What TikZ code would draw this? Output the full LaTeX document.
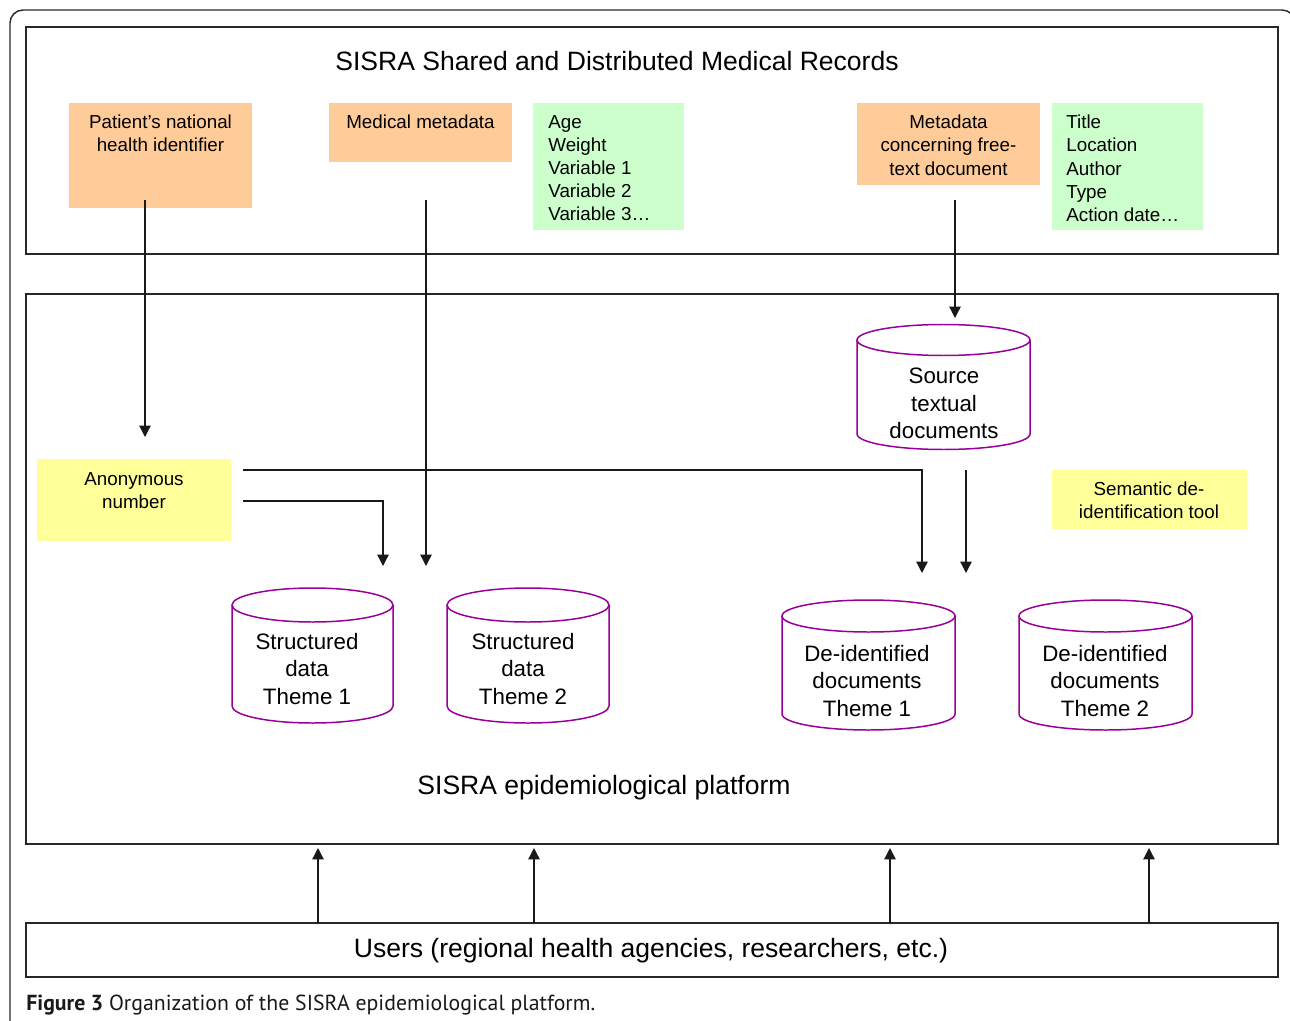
\documentclass[tikz,border=0pt]{standalone}
\usepackage{fontspec}
\setmainfont{Liberation Sans}
\newfontfamily\capfont{PT Sans}
\usetikzlibrary{arrows.meta}
\definecolor{orangebox}{RGB}{255,204,153}
\definecolor{greenbox}{RGB}{204,255,204}
\definecolor{yellowbox}{RGB}{255,255,153}
\definecolor{cylpurple}{RGB}{153,0,153}
\definecolor{framegray}{RGB}{40,40,40}
\newcommand\dbcyl[5]{% x1, x2, ytop, ybot, ry
  \pgfmathsetmacro\cylcx{(#1+#2)/2}%
  \pgfmathsetmacro\cylrx{(#2-#1)/2}%
  \draw[cylline] (#1,#3) -- (#1,#4) arc[start angle=180,end angle=0,x radius=\cylrx,y radius=#5] -- (#2,#3);
  \draw[cylline] (\cylcx,#3) ellipse[x radius=\cylrx, y radius=#5];
}
\begin{document}
\begin{tikzpicture}[x=0.02cm,y=-0.02cm,
  frame/.style={draw=framegray, line width=0.9pt, inner sep=0pt},
  fillbox/.style={inner sep=0pt, draw=none},
  cylline/.style={draw=cylpurple, line width=0.85pt},
  conn/.style={draw=black!90, line width=0.75pt, -{Triangle[length=6.5pt,width=6.5pt]}},
  smalltxt/.style={inner sep=0pt, font=\fontsize{10.7}{13.1}\selectfont},
  cyltxt/.style={inner sep=0pt, align=center, font=\fontsize{12.7}{15.6}\selectfont},
  bigtxt/.style={inner sep=0pt, font=\fontsize{15.1}{18}\selectfont}]
\useasboundingbox (0,0) rectangle (1290,1020);
\fill[white] (0,0) rectangle (1290,1020);
% outer rounded frame (partly outside the page)
\begin{scope}
  \clip (0,0) rectangle (1290,1020);
  \draw[draw=framegray, line width=0.8pt, rounded corners=0.26cm] (10,1040) -- (10,10) -- (1295,10) -- (1295,1040);
\end{scope}
% main boxes
\node[frame, minimum width=25.04cm, minimum height=4.54cm] (records) at (652,140.5) {};
\node[frame, minimum width=25.04cm, minimum height=11cm] (platform) at (652,569) {};
\node[frame, minimum width=25.04cm, minimum height=1.08cm] (users) at (652,950) {};
% coloured boxes
\node[fillbox, fill=orangebox, minimum width=3.66cm, minimum height=2.1cm] (pid) at (160.5,155.5) {};
\node[fillbox, fill=orangebox, minimum width=3.66cm, minimum height=1.18cm] (medmeta) at (420.5,132.5) {};
\node[fillbox, fill=greenbox, minimum width=3.02cm, minimum height=2.54cm] (vars) at (608.5,166.5) {};
\node[fillbox, fill=orangebox, minimum width=3.66cm, minimum height=1.64cm] (docmeta) at (948.5,144) {};
\node[fillbox, fill=greenbox, minimum width=3.02cm, minimum height=2.54cm] (docvars) at (1127.5,166.5) {};
\node[fillbox, fill=yellowbox, minimum width=3.88cm, minimum height=1.64cm] (anon) at (134,500) {};
\node[fillbox, fill=yellowbox, minimum width=3.9cm, minimum height=1.18cm] (semtool) at (1149.5,499.5) {};
% cylinders
\dbcyl{857}{1030}{340}{434}{15.5}
\dbcyl{232}{393}{605}{706}{17}
\dbcyl{447}{609}{605}{706}{17}
\dbcyl{782}{955}{616}{714}{16}
\dbcyl{1019}{1192}{616}{714}{16}
% connector coordinates
\coordinate (pidout) at (145,200);
\coordinate (anonin) at (145,437);
\coordinate (medout) at (426,200);
\coordinate (sd2in) at (426,566);
\coordinate (docout) at (955,200);
\coordinate (srcin) at (955,318);
\coordinate (anonA) at (243,470);
\coordinate (bendA) at (922,470);
\coordinate (dd1in) at (922,573);
\coordinate (anonB) at (243,501);
\coordinate (bendB) at (383,501);
\coordinate (sd1in) at (383,566);
\coordinate (srcout) at (966,470);
\coordinate (dd1inB) at (966,573);
\foreach \ux/\nm in {318/u1,534/u2,890/u3,1149/u4}{
  \coordinate (\nm s) at (\ux,923);
  \coordinate (\nm e) at (\ux,848);
}
% connectors
\draw[conn] (pidout) -- (anonin);
\draw[conn] (medout) -- (sd2in);
\draw[conn] (docout) -- (srcin);
\draw[conn] (anonA) -- (bendA) -- (dd1in);
\draw[conn] (anonB) -- (bendB) -- (sd1in);
\draw[conn] (srcout) -- (dd1inB);
\foreach \nm in {u1,u2,u3,u4}{ \draw[conn] (\nm s) -- (\nm e); }
% texts
\node[bigtxt, anchor=base] (rectitle) at (617,71) {SISRA Shared and Distributed Medical Records};
\node[smalltxt, align=center, anchor=north] (pidtxt) at (160.5,115) {Patient’s national\\health identifier};
\node[smalltxt, anchor=north] (medtxt) at (420.5,115) {Medical metadata};
\node[smalltxt, align=left, anchor=north west] (varstxt) at (548,115) {Age\\Weight\\Variable 1\\Variable 2\\Variable 3…};
\node[smalltxt, align=center, anchor=north] (docmetatxt) at (948.5,115) {Metadata\\concerning free-\\text document};
\node[smalltxt, align=left, anchor=north west] (docvarstxt) at (1066,115) {Title\\Location\\Author\\Type\\Action date…};
\node[cyltxt, anchor=north] (srctxt) at (944,368) {Source\\textual\\documents};
\node[smalltxt, align=center, anchor=north] (anontxt) at (134,472) {Anonymous\\number};
\node[smalltxt, align=center, anchor=north] (semtxt) at (1149,482) {Semantic de-\\identification tool};
\node[cyltxt, anchor=north] (sd1txt) at (307,633) {Structured\\data\\Theme 1};
\node[cyltxt, anchor=north] (sd2txt) at (523,633) {Structured\\data\\Theme 2};
\node[cyltxt, anchor=north] (dd1txt) at (867,645) {De-identified\\documents\\Theme 1};
\node[cyltxt, anchor=north] (dd2txt) at (1105,645) {De-identified\\documents\\Theme 2};
\node[bigtxt, anchor=base] (plattxt) at (604,794) {SISRA epidemiological platform};
\node[bigtxt, anchor=base] (userstxt) at (651,957) {Users (regional health agencies, researchers, etc.)};
\node[inner sep=0pt, anchor=base west, text=black!90, font=\capfont\fontsize{12.4}{14}\selectfont] (caption) at (26,1010) {\textbf{Figure 3} Organization of the SISRA epidemiological platform.};
\end{tikzpicture}
\end{document}
